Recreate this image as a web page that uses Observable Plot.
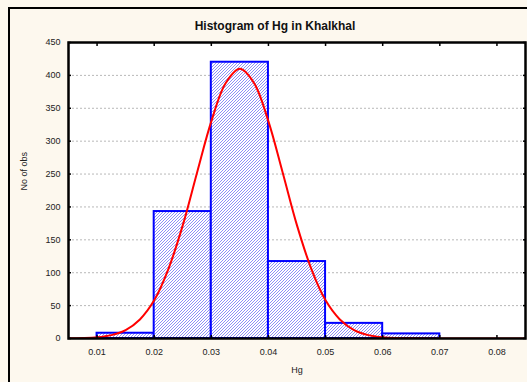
<!DOCTYPE html>
<html>
<head>
<meta charset="utf-8">
<script src="https://cdn.jsdelivr.net/npm/d3@7"></script>
<script src="https://cdn.jsdelivr.net/npm/@observablehq/plot@0.6"></script>
<style>
  html, body { margin: 0; padding: 0; background: #fdf8ee; }
  #wrap { position: relative; width: 527px; height: 382px; overflow: hidden; background: #fdf8ee; font-family: "Liberation Sans", Arial, sans-serif; }
  #box { position: absolute; left: 8px; top: 7px; width: 560px; height: 420px; border: 2px solid #000; box-sizing: border-box; }
  #title { position: absolute; left: 0; width: 550px; top: 19px; text-align: center; font-size: 12px; font-weight: bold; color: #111; }
  #chart { position: absolute; left: 0; top: 0; }
</style>
</head>
<body>
<div id="wrap">
  <div id="box"></div>
  <div id="title">Histogram of Hg in Khalkhal</div>
  <div id="chart"></div>
</div>
<script>
// Histogram bins (Hg) and counts
const binStart = [0.01, 0.02, 0.03, 0.04, 0.05, 0.06];
const binEnd   = [0.02, 0.03, 0.04, 0.05, 0.06, 0.07];
const counts   = [8, 193, 420, 117, 23, 7];

// Fitted normal curve
const curveX = [0.005, 0.0075, 0.01, 0.0125, 0.015, 0.0175, 0.02, 0.0225, 0.025, 0.0275, 0.03, 0.0325, 0.035,
                0.0375, 0.04, 0.0425, 0.045, 0.0475, 0.05, 0.0525, 0.055, 0.0575, 0.06, 0.0625, 0.065, 0.07, 0.075, 0.08, 0.085];
const curveY = [0.2, 0.6, 1.8, 5.1, 12.8, 29, 58, 106, 172, 252, 330, 388, 410,
                388, 330, 252, 172, 106, 58, 29, 12.8, 5.1, 1.8, 0.6, 0.2, 0, 0, 0, 0];

const xTicks = [0.01, 0.02, 0.03, 0.04, 0.05, 0.06, 0.07, 0.08];
const yTicks = [0, 50, 100, 150, 200, 250, 300, 350, 400, 450];
const gridTicks = [50, 100, 150, 200, 250, 300, 350, 400];

const bins = binStart.map((s, i) => ({x1: s, x2: binEnd[i], y: counts[i]}));
const curve = curveX.map((x, i) => ({x, y: curveY[i]}));

const plot = Plot.plot({
  width: 527,
  height: 382,
  marginLeft: 68,
  marginRight: 2,
  marginTop: 42,
  marginBottom: 44,
  style: {background: "transparent", fontFamily: "Liberation Sans, Arial, sans-serif", fontSize: "9px", color: "#222"},
  x: {domain: [0.005, 0.085]},
  y: {domain: [0, 450]},
  marks: [
    () => {
      const ns = "http://www.w3.org/2000/svg";
      const defs = document.createElementNS(ns, "defs");
      defs.innerHTML = `<pattern id="hatch" patternUnits="userSpaceOnUse" width="3" height="3">
        <rect width="3" height="3" fill="#ffffff"/>
        <path d="M-1,1 l2,-2 M0,3 l3,-3 M2,4 l2,-2" stroke="#3030f0" stroke-width="0.55"/>
      </pattern>`;
      return defs;
    },
    Plot.frame({fill: "white"}),
    Plot.gridY(gridTicks, {stroke: "#b8b8b8", strokeOpacity: 1, strokeDasharray: "2,2"}),
    Plot.rectY(bins, {x1: "x1", x2: "x2", y: "y", fill: "url(#hatch)", stroke: "#0000ff", strokeWidth: 2}),
    Plot.line(curve, {x: "x", y: "y", stroke: "#ff0000", strokeWidth: 2, curve: "catmull-rom", clip: true}),
    Plot.axisY(yTicks, {tickSize: 0, tickPadding: 8, label: null}),
    Plot.axisY(yTicks, {tickSize: -3, text: null, stroke: "#000", strokeWidth: 1.5, label: null}),
    Plot.axisY(yTicks, {anchor: "right", tickSize: -3, text: null, stroke: "#000", strokeWidth: 1.5, label: null}),
    Plot.axisX(xTicks, {tickSize: 0, tickPadding: 10, label: null, tickFormat: d3.format(".2f")}),
    Plot.axisX(xTicks, {tickSize: -3, text: null, stroke: "#000", strokeWidth: 1.5, label: null}),
    Plot.axisX(xTicks, {anchor: "top", tickSize: -3, text: null, stroke: "#000", strokeWidth: 1.5, label: null}),
    Plot.frame({stroke: "#000", strokeWidth: 2.5}),
    Plot.text(["Hg"], {frameAnchor: "bottom", dy: 34, fontSize: 9, fill: "#222"}),
    Plot.text(["No of obs"], {frameAnchor: "left", dx: -44, rotate: -90, fontSize: 9, fill: "#222"})
  ]
});
document.getElementById("chart").appendChild(plot);
</script>
</body>
</html>
